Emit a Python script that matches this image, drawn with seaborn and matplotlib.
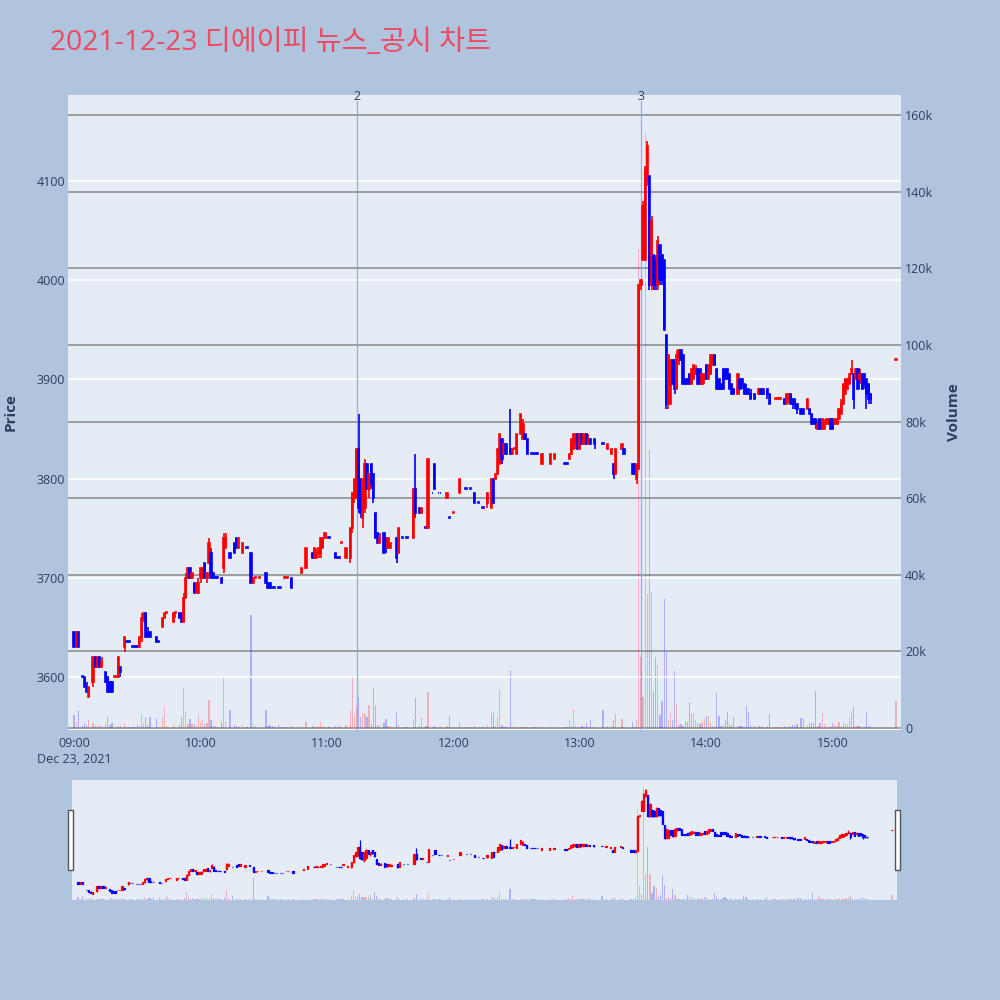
import numpy as np
import pandas as pd
import matplotlib
matplotlib.use("Agg")
import matplotlib.pyplot as plt
import seaborn as sns
from matplotlib.patches import Rectangle

TITLE = "2021-12-23 디에이피 뉴스_공시 차트"

# minute offsets from 09:00
minutes = [0,1,2,4,5,6,7,9,10,11,12,13,15,16,17,18,19,20,21,22,24,25,26,28,29,30,31,32,33,34,35,36,39,40,42,43,44,47,48,50,
           51,52,53,54,55,56,57,58,59,60,61,62,63,64,65,66,67,68,70,71,72,74,76,77,78,80,82,84,85,86,88,91,92,93,94,95,97,98,
           100,101,103,108,110,113,114,115,116,117,118,119,121,124,125,126,127,129,131,132,133,134,135,136,137,138,139,140,
           141,142,143,144,145,147,148,149,150,153,154,156,158,161,162,164,165,167,168,170,171,173,174,177,178,180,183,186,
           188,190,192,194,196,198,199,200,201,202,203,204,205,207,208,209,210,212,213,214,215,217,218,219,220,222,226,228,
           233,234,235,236,237,238,239,240,241,242,243,244,245,247,251,253,255,256,257,260,261,265,266,267,268,269,270,271,
           272,273,274,275,276,277,278,279,280,281,282,283,284,285,286,287,288,289,290,291,292,293,294,295,296,297,298,299,
           300,301,302,303,304,305,306,307,308,309,310,311,312,313,315,316,317,318,319,320,321,323,325,326,327,329,330,333,
           334,335,337,338,339,340,341,342,343,345,346,348,349,350,351,352,353,354,355,356,357,358,359,360,361,362,363,364,
           365,366,367,368,369,370,371,372,373,374,375,376,377,378,390]
opens = [3645,3630,3645,3600,3600,3590,3580,3595,3620,3610,3620,3610,3605,3600,3595,3595,3600,3600,3600,3610,3630,3635,3635,3630,3630,3630,3630,3640,3660,3665,3645,3645,3640,3635,3650,3660,3665,3655,3665,3665,
         3665,3655,3680,3700,3710,3700,3695,3685,3685,3700,3700,3715,3700,3715,3725,3705,3700,3700,3700,3710,3730,3725,3735,3740,3730,3725,3730,3725,3695,3700,3700,3705,3695,3695,3690,3690,3690,3690,
         3700,3700,3700,3705,3710,3725,3720,3720,3725,3725,3730,3740,3740,3725,3720,3720,3735,3720,3720,3750,3780,3780,3830,3800,3760,3770,3815,3790,
         3815,3805,3765,3745,3735,3745,3740,3730,3730,3740,3725,3740,3740,3740,3790,3770,3765,3750,3750,3785,3815,3785,3785,3780,3760,3765,3785,3790,
         3790,3785,3775,3770,3775,3770,3800,3800,3805,3815,3840,3825,3835,3830,3825,3830,3825,3845,3840,3845,3840,3825,3825,3825,3825,3815,3815,3820,
         3815,3815,3820,3825,3830,3835,3845,3830,3845,3835,3845,3835,3840,3840,3835,3830,3825,3815,3805,3830,3830,3815,3815,3800,3810,3995,4020,4020,
         4100,4105,3995,4025,4020,3995,4035,4025,4020,3945,3875,3875,3920,3920,3890,3920,3930,3925,3900,3900,3905,3895,3900,3905,3910,3910,3895,3900,
         3915,3900,3905,3915,3925,3910,3900,3895,3910,3910,3910,3905,3895,3890,3885,3900,3900,3895,3890,3890,3885,3885,3885,3890,3890,3890,3885,3880,
         3880,3880,3880,3875,3880,3885,3880,3880,3875,3870,3870,3870,3870,3865,3860,3860,3850,3860,3850,3850,3855,3855,3860,3860,3855,3855,3860,3865,
         3875,3885,3890,3895,3905,3905,3900,3910,3900,3905,3905,3900,3895,3885,3920]
highs = [3645,3645,3645,3600,3600,3595,3590,3620,3620,3620,3620,3620,3605,3600,3595,3595,3600,3600,3620,3610,3640,3635,3635,3630,3630,3630,3640,3665,3665,3665,3650,3645,3640,3635,3660,3665,3665,3665,3665,3665,
         3665,3685,3705,3710,3710,3705,3695,3695,3700,3710,3710,3715,3705,3740,3730,3705,3700,3700,3700,3745,3745,3725,3735,3740,3740,3735,3730,3725,3700,3700,3700,3705,3695,3695,3690,3690,3690,3690,
         3700,3700,3700,3710,3730,3725,3730,3730,3730,3740,3740,3745,3740,3725,3720,3720,3735,3730,3750,3785,3800,3830,3865,3800,3800,3820,3815,3805,
         3815,3805,3765,3745,3745,3745,3740,3740,3735,3740,3750,3740,3740,3790,3825,3770,3770,3750,3820,3785,3815,3785,3785,3785,3760,3765,3800,3790,
         3790,3785,3775,3770,3785,3800,3800,3805,3830,3845,3840,3835,3835,3870,3830,3830,3845,3865,3860,3845,3840,3825,3825,3825,3825,3825,3825,3825,
         3815,3815,3825,3840,3845,3845,3845,3845,3845,3845,3845,3845,3840,3840,3835,3835,3830,3815,3830,3835,3830,3815,3815,3815,3995,4000,4080,4115,
         4140,4105,4065,4025,4025,4045,4035,4025,4020,3945,3925,3920,3920,3920,3930,3930,3930,3925,3900,3900,3905,3910,3915,3915,3910,3910,3905,3905,
         3915,3915,3925,3925,3925,3910,3900,3895,3910,3910,3910,3905,3895,3890,3905,3900,3900,3895,3895,3890,3890,3885,3890,3890,3890,3890,3885,3880,
         3880,3880,3880,3885,3885,3885,3880,3880,3875,3870,3870,3880,3870,3865,3860,3860,3860,3860,3860,3860,3860,3860,3860,3860,3860,3860,3870,3880,
         3895,3900,3900,3905,3920,3905,3910,3910,3910,3905,3905,3900,3895,3885,3920]
lows = [3630,3630,3630,3600,3590,3585,3580,3590,3610,3610,3610,3610,3595,3585,3585,3585,3600,3600,3600,3600,3625,3635,3635,3630,3630,3630,3630,3635,3655,3640,3640,3640,3635,3635,3650,3660,3665,3655,3660,3660,
        3655,3655,3680,3700,3700,3700,3685,3685,3685,3695,3700,3700,3695,3715,3700,3700,3700,3700,3695,3705,3730,3720,3725,3730,3730,3725,3730,3695,3695,3700,3700,3695,3690,3690,3690,3690,3690,3690,
        3700,3700,3690,3705,3710,3720,3720,3720,3720,3720,3730,3740,3740,3720,3720,3720,3735,3720,3715,3745,3775,3780,3765,3760,3750,3765,3790,3780,
        3790,3775,3740,3735,3735,3725,3725,3730,3730,3715,3725,3740,3740,3740,3760,3765,3765,3750,3750,3785,3790,3785,3785,3780,3760,3765,3785,3790,
        3790,3775,3775,3770,3770,3770,3775,3800,3805,3815,3815,3825,3825,3825,3825,3830,3825,3845,3840,3840,3825,3825,3825,3825,3825,3815,3815,3820,
        3815,3815,3820,3825,3830,3830,3830,3830,3835,3835,3835,3835,3835,3830,3835,3830,3825,3800,3805,3830,3825,3805,3805,3795,3810,3990,4020,4020,
        4095,3990,3990,3990,3990,3990,3995,3995,3950,3870,3870,3875,3895,3885,3890,3915,3920,3895,3895,3895,3895,3895,3900,3905,3895,3895,3895,3895,
        3900,3900,3905,3915,3915,3890,3890,3890,3890,3900,3900,3890,3885,3885,3885,3890,3890,3885,3885,3885,3880,3880,3885,3885,3885,3880,3875,3880,
        3880,3880,3875,3875,3875,3875,3870,3870,3865,3865,3865,3870,3865,3855,3855,3850,3850,3850,3850,3850,3855,3855,3850,3850,3855,3855,3860,3865,
        3875,3885,3890,3895,3905,3870,3900,3890,3895,3890,3890,3870,3875,3875,3920]
closes = [3630,3645,3630,3600,3590,3585,3590,3620,3610,3620,3610,3615,3595,3585,3585,3585,3600,3600,3620,3605,3640,3635,3635,3630,3630,3630,3640,3660,3665,3640,3640,3640,3635,3635,3660,3665,3665,3665,3665,3660,
          3655,3680,3700,3710,3700,3705,3685,3695,3695,3710,3710,3700,3705,3735,3700,3700,3700,3700,3695,3740,3740,3720,3725,3730,3740,3735,3730,3695,3700,3700,3700,3695,3690,3690,3690,3690,3690,3690,
          3700,3700,3690,3710,3730,3720,3730,3725,3730,3740,3740,3745,3740,3720,3720,3720,3735,3730,3750,3785,3800,3830,3770,3765,3800,3815,3790,3805,
          3795,3780,3740,3735,3740,3725,3730,3740,3735,3720,3750,3740,3740,3790,3765,3765,3770,3750,3820,3785,3790,3785,3785,3785,3760,3765,3800,3790,
          3790,3775,3775,3770,3785,3800,3775,3805,3830,3845,3820,3835,3825,3825,3830,3830,3845,3865,3855,3840,3825,3825,3825,3825,3825,3825,3825,3825,
          3815,3815,3825,3840,3845,3845,3830,3845,3835,3845,3835,3840,3835,3835,3835,3835,3830,3805,3830,3835,3825,3805,3805,3815,3995,4000,4075,4110,
          4135,3995,4060,3995,3995,4040,4000,4000,3950,3875,3925,3920,3895,3890,3925,3930,3920,3895,3895,3895,3895,3910,3915,3910,3895,3895,3905,3905,
          3900,3915,3925,3925,3915,3890,3890,3890,3890,3900,3900,3890,3885,3885,3905,3890,3895,3885,3885,3885,3880,3880,3890,3885,3885,3885,3875,3880,
          3880,3880,3875,3885,3885,3875,3875,3875,3870,3865,3865,3880,3865,3855,3855,3855,3855,3850,3860,3855,3860,3860,3850,3850,3860,3860,3870,3875,
          3895,3900,3900,3905,3910,3880,3910,3890,3905,3890,3895,3885,3880,3880,3920]
volumes = [3500,1500,4800,500,1300,900,2200,1300,600,500,600,500,1000,2800,800,1300,300,300,600,600,1300,300,300,200,200,900,500,3700,1300,2800,800,3000,2600,300,2800,5500,500,1000,300,900,
           2800,10400,4100,1000,2400,1000,1000,600,3500,1500,2000,1000,1200,7400,2200,800,500,300,1700,13700,1700,4800,800,500,500,800,300,29500,1300,500,300,4600,600,900,500,300,900,300,
           300,300,500,500,1500,500,500,400,500,1500,500,400,300,500,300,900,300,900,4800,13700,3500,5700,8100,3000,3900,3700,3000,6100,
           1000,10400,5700,800,800,1300,2400,600,500,4100,900,300,300,2400,7800,500,2800,500,9300,300,800,300,300,500,3200,300,1500,300,
           300,600,300,300,800,4100,3900,500,3000,10000,800,400,400,15200,400,400,400,300,300,300,300,200,200,200,200,300,300,300,
           300,300,2200,500,5000,500,300,300,500,300,1300,300,2000,300,4800,500,600,2200,3700,2400,300,1500,300,2000,125000,18500,8000,155000,
           35000,72600,35500,9600,18500,16400,3400,7000,33700,19800,2000,3900,2000,14800,6300,800,1000,500,1500,1500,6800,3900,3900,2000,1300,1000,1500,2400,
           3200,3200,1300,500,500,9100,3200,600,900,2000,4100,1000,800,2800,600,500,500,300,5700,4300,800,500,500,300,300,500,3700,300,
           300,300,500,300,500,500,900,800,1000,2600,2400,900,1300,1300,1300,9600,500,1300,3900,1000,500,300,500,1300,1000,600,1500,600,
           1700,1000,1000,2600,4100,5500,500,500,500,300,300,4300,500,500,7000]

news_minutes = [134.4, 268.9]
news_labels = ["2", "3"]
hour_ticks = [0, 60, 120, 180, 240, 300, 360]
hour_labels = ["09:00\nDec 23, 2021", "10:00", "11:00", "12:00", "13:00", "14:00", "15:00"]
price_ticks = [3600, 3700, 3800, 3900, 4000, 4100]
volume_ticks = [0, 20000, 40000, 60000, 80000, 100000, 120000, 140000, 160000]
volume_tick_labels = ["0", "20k", "40k", "60k", "80k", "100k", "120k", "140k", "160k"]

# ---- direction (plotly rule: close vs open, ties vs previous close) ----
dirs = []
prev_c, prev_d = None, "down"
for o, c in zip(opens, closes):
    if c > o:
        d = "up"
    elif c < o:
        d = "down"
    elif prev_c is None:
        d = prev_d
    elif c > prev_c:
        d = "up"
    elif c < prev_c:
        d = "down"
    else:
        d = prev_d
    dirs.append(d)
    prev_c, prev_d = c, d

df = pd.DataFrame({"minute": minutes, "open": opens, "high": highs, "low": lows,
                   "close": closes, "volume": volumes, "dir": dirs})

UP, DOWN = "#ff0000", "#0000ff"
palette = {"up": UP, "down": DOWN}
PLOT_BG = "#E5ECF6"
FIG_BG = "#B0C4DE"
TXT = "#2a3f5f"

sns.set_theme(style="white")
plt.rcParams["font.family"] = ["Open Sans", "Noto Sans CJK KR", "DejaVu Sans"]

fig = plt.figure(figsize=(10, 10), dpi=100, facecolor=FIG_BG)

XLIM = (-2.9, 392.4)
PLIM = (3546.6, 4186.7)
VLIM = (-500, 165300)


def draw(ax_p, ax_v, mini=False):
    sns.histplot(data=df, x="minute", weights="volume", hue="dir", palette=palette,
                 discrete=True, shrink=0.6, alpha=0.25, linewidth=0, legend=False,
                 multiple="layer", ax=ax_v)
    cols = np.where(df["dir"] == "up", UP, DOWN)
    body_lo = np.minimum(df["open"], df["close"])
    body_h = np.maximum(np.abs(df["close"] - df["open"]), 1.0)
    ax_p.vlines(df["minute"], df["low"], df["high"], colors=cols,
                lw=0.9 if mini else 1.2, zorder=3)
    ax_p.bar(df["minute"], body_h, bottom=body_lo, width=0.6, color=cols,
             edgecolor=cols, linewidth=0.9 if mini else 1.2, zorder=4)
    ax_p.set_xlim(*XLIM)
    ax_p.set_ylim(*PLIM)
    ax_v.set_ylim(*VLIM)
    for a in (ax_p, ax_v):
        for s in a.spines.values():
            s.set_visible(False)


# ---------------- main panel ----------------
axv = fig.add_axes([0.068, 0.270, 0.833, 0.635])
axp = axv.twinx()
# put price (left) on top of volume (right)
axv.yaxis.tick_right()
axv.yaxis.set_label_position("right")
axp.yaxis.tick_left()
axp.yaxis.set_label_position("left")
axp.set_zorder(axv.get_zorder() + 1)
axp.patch.set_visible(False)
axv.patch.set_visible(True)
axv.set_facecolor(PLOT_BG)

draw(axp, axv)

axv.set_yticks(volume_ticks, volume_tick_labels)
axv.grid(axis="y", color="#8f8f8f", lw=1.2)
axv.grid(axis="x", visible=False)
axv.axhline(0, color="white", lw=2, zorder=0.5)
axv.set_ylabel("Volume", fontsize=11, fontweight="bold", color=TXT)
axv.yaxis.set_label_coords(1.055, 0.5)
axv.tick_params(axis="y", length=0, pad=3, labelsize=9, colors=TXT)
axv.set_xlabel("")

axp.set_yticks(price_ticks)
axp.grid(axis="y", color="white", lw=1.2, zorder=0)
axp.grid(axis="x", visible=False)
axp.set_ylabel("Price", fontsize=11, fontweight="bold", color=TXT)
axp.yaxis.set_label_coords(-0.061, 0.5)
axp.tick_params(axis="y", length=0, pad=2, labelsize=9, colors=TXT)

axv.set_xticks(hour_ticks, hour_labels)
axv.tick_params(axis="x", length=0, pad=5, labelsize=9, colors=TXT)
for lbl in axv.get_xticklabels():
    lbl.set_linespacing(1.35)
axp.tick_params(axis="x", length=0)

for m, lab in zip(news_minutes, news_labels):
    axp.axvline(m, ymin=0, ymax=0.99, color="#8799f0", lw=0.9, alpha=0.8, zorder=2)
    axp.text(m, 0.998, lab, transform=axp.get_xaxis_transform(), ha="center",
             va="center", fontsize=9, color=TXT)

# ---------------- range slider ----------------
sv = fig.add_axes([0.072, 0.100, 0.825, 0.120])
sp = sv.twinx()
sp.set_zorder(sv.get_zorder() + 1)
sp.patch.set_visible(False)
sv.patch.set_visible(True)
sv.set_facecolor(PLOT_BG)
draw(sp, sv, mini=True)
for a in (sv, sp):
    a.set_xticks([])
    a.set_yticks([])
    a.set_xlabel("")
    a.set_ylabel("")
    a.grid(False)

for x0 in (0.068, 0.895):
    fig.add_artist(Rectangle((x0, 0.130), 0.005, 0.060, transform=fig.transFigure,
                             facecolor="white", edgecolor="#555555", lw=1.0))

fig.text(0.05, 0.957, TITLE, color="#EC4A60", fontsize=20.3, ha="left", va="center",
         family=["Open Sans", "Noto Sans CJK KR"])

fig.savefig("out.png", dpi=100, facecolor=FIG_BG)
